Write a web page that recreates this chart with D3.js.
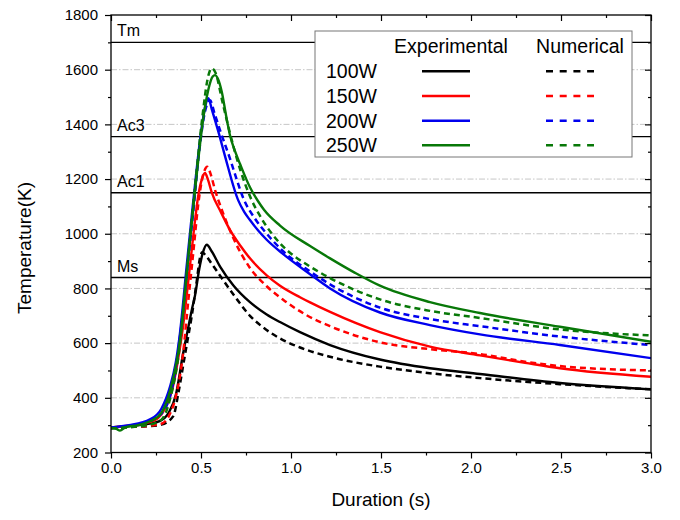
<!DOCTYPE html>
<html><head><meta charset="utf-8">
<script src="https://cdn.jsdelivr.net/npm/d3@7"></script>
<style>
body{margin:0;background:#fff}
svg{display:block}
text{font-family:"Liberation Sans",Arial,sans-serif;fill:#000}
</style>
</head><body>
<svg id="chart" width="680" height="520"></svg>
<script>
// ---------- data ----------
const xTicks = [0, 0.5, 1, 1.5, 2, 2.5, 3];
const xMinorTicks = [0.25, 0.75, 1.25, 1.75, 2.25, 2.75];
const yTicks = [200, 400, 600, 800, 1000, 1200, 1400, 1600, 1800];
const yMinorTicks = [300, 500, 700, 900, 1100, 1300, 1500, 1700];
const gridValues = [400, 600, 800, 1000, 1200, 1400, 1600];

const refNames = ["Tm", "Ac3", "Ac1", "Ms"];
const refValues = [1700, 1355, 1150, 840];

const powers = ["100W", "150W", "200W", "250W"];

// [duration (s), temperature (K)]
const exp100 = [[0,292],[0.1,297],[0.2,304],[0.27,315],[0.32,345],[0.36,410],[0.4,560],[0.43,660],[0.45,725],[0.467,775],[0.49,870],[0.51,930],[0.532,960],[0.56,935],[0.606,880],[0.679,812],[0.772,750],[0.865,705],[0.939,677],[1.05,640],[1.217,593],[1.494,540],[1.772,508],[2.05,487],[2.494,454],[3.0,431]];
const num100 = [[0,290],[0.1,293],[0.2,296],[0.28,302],[0.346,333],[0.375,420],[0.4,515],[0.425,610],[0.448,697],[0.476,825],[0.494,910],[0.506,932],[0.53,918],[0.56,890],[0.615,838],[0.7,760],[0.772,700],[0.85,655],[0.939,617],[1.05,584],[1.217,550],[1.494,514],[1.772,490],[2.05,472],[2.494,450],[3.0,431]];
const exp150 = [[0,292],[0.1,298],[0.2,308],[0.26,325],[0.3,360],[0.34,430],[0.37,530],[0.4,660],[0.43,830],[0.46,1010],[0.485,1140],[0.505,1200],[0.522,1222],[0.54,1195],[0.56,1150],[0.61,1080],[0.661,1014],[0.72,955],[0.772,910],[0.865,848],[0.939,810],[1.05,768],[1.106,749],[1.217,714],[1.494,640],[1.772,587],[2.05,555],[2.3,528],[2.494,508],[3.0,477]];
const num150 = [[0,290],[0.1,294],[0.2,297],[0.28,305],[0.33,345],[0.356,394],[0.4,560],[0.43,759],[0.46,950],[0.485,1110],[0.51,1210],[0.535,1245],[0.555,1215],[0.578,1160],[0.62,1080],[0.679,985],[0.772,875],[0.865,808],[0.958,758],[1.087,702],[1.217,662],[1.494,603],[1.772,578],[2.05,560],[2.3,532],[2.494,516],[3.0,500]];
const exp200 = [[0,292],[0.1,300],[0.217,321],[0.28,360],[0.328,441],[0.36,530],[0.383,636],[0.42,880],[0.448,1062],[0.47,1200],[0.5,1370],[0.525,1470],[0.541,1496],[0.56,1455],[0.6,1365],[0.633,1285],[0.707,1122],[0.74,1080],[0.772,1050],[0.82,1010],[0.865,978],[0.95,929],[1.106,852],[1.217,800],[1.494,712],[1.772,666],[2.05,632],[2.494,593],[3.0,545]];
const num200 = [[0,290],[0.1,296],[0.217,315],[0.3,360],[0.35,470],[0.39,660],[0.43,910],[0.46,1100],[0.49,1300],[0.52,1440],[0.55,1488],[0.575,1440],[0.61,1370],[0.661,1275],[0.7,1195],[0.735,1130],[0.8,1055],[0.865,1000],[0.95,940],[1.106,862],[1.217,815],[1.494,730],[1.772,688],[2.05,662],[2.494,624],[3.0,593]];
const exp250 = [[0,290],[0.03,286],[0.05,280],[0.08,292],[0.15,300],[0.22,315],[0.28,345],[0.33,430],[0.385,620],[0.42,850],[0.45,1050],[0.48,1240],[0.51,1410],[0.54,1525],[0.565,1575],[0.578,1580],[0.595,1565],[0.615,1520],[0.64,1430],[0.661,1360],[0.69,1300],[0.717,1255],[0.772,1170],[0.818,1118],[0.85,1088],[0.939,1030],[1.106,955],[1.217,910],[1.356,857],[1.494,810],[1.772,750],[2.05,710],[2.494,660],[3.0,605]];
const num250 = [[0,288],[0.1,293],[0.2,300],[0.28,320],[0.33,400],[0.38,580],[0.42,850],[0.45,1060],[0.48,1260],[0.51,1440],[0.535,1560],[0.559,1605],[0.58,1590],[0.62,1480],[0.66,1370],[0.72,1230],[0.78,1125],[0.828,1065],[0.939,965],[0.976,941],[1.106,880],[1.217,838],[1.494,760],[1.772,718],[2.05,692],[2.494,650],[3.0,628]];

const experimental = [exp100, exp150, exp200, exp250];
const numerical = [num100, num150, num200, num250];
const colors = ["#000000", "#ff0000", "#0000ee", "#087808"];

// ---------- layout ----------
const svg = d3.select("#chart");
const L = 111, R = 651, T = 15, B = 452.5;
const x = d3.scaleLinear().domain([0, 3]).range([L, R]);
const y = d3.scaleLinear().domain([200, 1800]).range([B, T]);

svg.append("rect").attr("width", 680).attr("height", 520).attr("fill", "#fff");

// grid lines
svg.append("g").selectAll("line").data(gridValues).join("line")
  .attr("x1", L).attr("x2", R).attr("y1", d => y(d)).attr("y2", d => y(d))
  .attr("stroke", "#b8b8b8").attr("stroke-width", 0.8).attr("stroke-dasharray", "6,2,1.5,2");

// reference lines
svg.append("g").selectAll("line").data(refValues).join("line")
  .attr("x1", L).attr("x2", R).attr("y1", d => y(d)).attr("y2", d => y(d))
  .attr("stroke", "#000").attr("stroke-width", 1.3);

svg.append("g").selectAll("text").data(refNames).join("text")
  .attr("x", 117).attr("y", (d, i) => y(refValues[i]) - 6)
  .attr("font-size", 16).text(d => d);

// curves
const defs = svg.append("defs");
defs.append("clipPath").attr("id", "clip").append("rect")
  .attr("x", L).attr("y", T).attr("width", R - L).attr("height", B - T);
const line = d3.line().x(d => x(d[0])).y(d => y(d[1])).curve(d3.curveMonotoneX);
const curves = svg.append("g").attr("clip-path", "url(#clip)");
powers.forEach((p, i) => {
  curves.append("path").datum(experimental[i]).attr("d", line)
    .attr("fill", "none").attr("stroke", colors[i]).attr("stroke-width", 2.4);
  curves.append("path").datum(numerical[i]).attr("d", line)
    .attr("fill", "none").attr("stroke", colors[i]).attr("stroke-width", 2.5)
    .attr("stroke-dasharray", "6,4");
});

// axes
function styleAxis(g) {
  g.selectAll(".domain").remove();
  g.selectAll("line").attr("stroke", "#000").attr("stroke-width", 1.2);
  g.selectAll("text").attr("font-size", 15).attr("font-family", "'Liberation Sans', Arial, sans-serif");
}
svg.append("g").attr("transform", `translate(0,${B})`)
  .call(d3.axisBottom(x).tickValues(xTicks).tickFormat(d3.format(".1f")).tickSize(6).tickPadding(4)).call(styleAxis);
svg.append("g").attr("transform", `translate(0,${B})`)
  .call(d3.axisBottom(x).tickValues(xMinorTicks).tickFormat("").tickSize(3)).call(styleAxis);
svg.append("g").attr("transform", `translate(${L},0)`)
  .call(d3.axisLeft(y).tickValues(yTicks).tickFormat(d3.format("d")).tickSize(6).tickPadding(7)).call(styleAxis);
svg.append("g").attr("transform", `translate(${L},0)`)
  .call(d3.axisLeft(y).tickValues(yMinorTicks).tickFormat("").tickSize(3)).call(styleAxis);
// mirrored ticks (inward) on top and right
svg.append("g").attr("transform", `translate(0,${T})`)
  .call(d3.axisBottom(x).tickValues(xTicks).tickFormat("").tickSize(6)).call(styleAxis);
svg.append("g").attr("transform", `translate(0,${T})`)
  .call(d3.axisBottom(x).tickValues(xMinorTicks).tickFormat("").tickSize(3)).call(styleAxis);
svg.append("g").attr("transform", `translate(${R},0)`)
  .call(d3.axisLeft(y).tickValues(yTicks).tickFormat("").tickSize(6)).call(styleAxis);
svg.append("g").attr("transform", `translate(${R},0)`)
  .call(d3.axisLeft(y).tickValues(yMinorTicks).tickFormat("").tickSize(3)).call(styleAxis);

// frame
svg.append("rect").attr("x", L).attr("y", T).attr("width", R - L).attr("height", B - T)
  .attr("fill", "none").attr("stroke", "#000").attr("stroke-width", 1.3);

// axis titles
svg.append("text").attr("x", (L + R) / 2).attr("y", 506).attr("text-anchor", "middle")
  .attr("font-size", 19).text("Duration (s)");
svg.append("text").attr("transform", "translate(31,248) rotate(-90)").attr("text-anchor", "middle")
  .attr("font-size", 19).text("Temperature(K)");

// legend
const lg = svg.append("g");
lg.append("rect").attr("x", 315).attr("y", 31).attr("width", 317).attr("height", 126)
  .attr("fill", "#fff").attr("stroke", "#777").attr("stroke-width", 1);
lg.append("text").attr("x", 451).attr("y", 52.5).attr("text-anchor", "middle").attr("font-size", 19.5).text("Experimental");
lg.append("text").attr("x", 580).attr("y", 52.5).attr("text-anchor", "middle").attr("font-size", 19.5).text("Numerical");
powers.forEach((p, i) => {
  const by = 78.3 + i * 24.67;
  lg.append("text").attr("x", 326).attr("y", by).attr("font-size", 19.5).text(p);
  lg.append("line").attr("x1", 422).attr("x2", 470).attr("y1", by - 7).attr("y2", by - 7)
    .attr("stroke", colors[i]).attr("stroke-width", 2.5);
  lg.append("line").attr("x1", 546).attr("x2", 594).attr("y1", by - 7).attr("y2", by - 7)
    .attr("stroke", colors[i]).attr("stroke-width", 2.5).attr("stroke-dasharray", "7,6.7");
});
</script>
</body></html>
